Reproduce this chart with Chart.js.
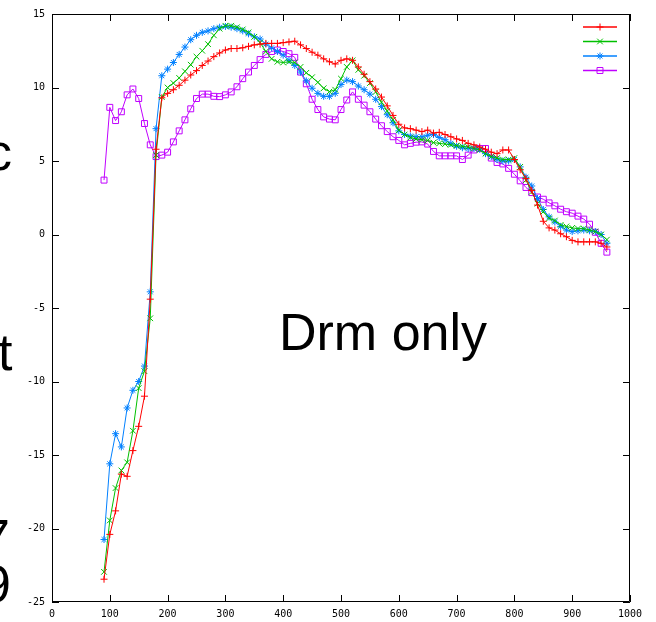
<!DOCTYPE html>
<html>
<head>
<meta charset="utf-8">
<script src="https://cdn.jsdelivr.net/npm/chart.js@4.4.1/dist/chart.umd.min.js"></script>
<style>
  html, body { margin: 0; padding: 0; background: #fff; }
  #wrap { position: relative; width: 656px; height: 622px; overflow: hidden; }
  canvas { display: block; }
  .big {
    position: absolute;
    font-family: "Liberation Sans", Arial, sans-serif;
    font-size: 52px;
    line-height: 1;
    color: #000;
    white-space: nowrap;
  }
</style>
</head>
<body>
<div id="wrap">
  <canvas id="chart" width="656" height="622"></canvas>
  <div class="big" style="left:-14px; top:126px;">c</div>
  <div class="big" style="left:-2px; top:326px;">t</div>
  <div class="big" style="left:-19px; top:512px;">7</div>
  <div class="big" style="left:-18px; top:558px;">9</div>
  <div class="big" style="left:279px; top:306px;">Drm only</div>
</div>
<script>
// x positions shared by all four curves
const xValues = [
  90, 100, 110, 120, 130, 140, 150, 160, 170, 180,
  190, 200, 210, 220, 230, 240, 250, 260, 270, 280,
  290, 300, 310, 320, 330, 340, 350, 360, 370, 380,
  390, 400, 410, 420, 430, 440, 450, 460, 470, 480,
  490, 500, 510, 520, 530, 540, 550, 560, 570, 580,
  590, 600, 610, 620, 630, 640, 650, 660, 670, 680,
  690, 700, 710, 720, 730, 740, 750, 760, 770, 780,
  790, 800, 810, 820, 830, 840, 850, 860, 870, 880,
  890, 900, 910, 920, 930, 940, 950, 960
];

const redValues = [
  -23.45, -20.4, -18.8, -16.3, -16.45, -14.7, -13.05, -11.0, -4.4, 5.8,
  9.3, 9.6, 9.85, 10.15, 10.5, 10.85, 11.15, 11.5, 11.8, 12.1,
  12.35, 12.55, 12.65, 12.65, 12.7, 12.8, 12.9, 12.95, 13.0, 13.0,
  13.0, 13.05, 13.1, 13.15, 12.9, 12.65, 12.4, 12.2, 11.95, 11.75,
  11.6, 11.85, 11.95, 11.85, 11.4, 10.9, 10.4, 9.9, 9.35, 8.75,
  8.1, 7.5, 7.25, 7.2, 7.1, 7.0, 7.1, 6.9, 6.95, 6.8,
  6.65, 6.5, 6.4, 6.2, 6.1, 5.95, 5.8, 5.6, 5.5, 5.75,
  5.75, 5.1, 4.4, 3.8, 3.0, 2.0, 0.9, 0.45, 0.3, 0.05,
  -0.15, -0.4, -0.5, -0.5, -0.5, -0.5, -0.6, -0.85
];

const greenValues = [
  -22.95, -19.45, -17.25, -16.05, -15.5, -13.35, -10.45, -9.3, -5.7, 5.4,
  9.35, 10.0, 10.3, 10.65, 11.1, 11.55, 12.1, 12.5, 12.95, 13.55,
  14.0, 14.2, 14.2, 14.1, 13.95, 13.75, 13.45, 13.05, 12.45, 11.95,
  11.75, 11.7, 11.75, 11.7, 11.4, 11.0, 10.7, 10.35, 9.95, 9.72,
  9.85, 10.6, 11.4, 11.85, 11.2, 10.8, 10.3, 9.7, 9.0, 8.4,
  7.8, 7.1, 6.8, 6.6, 6.5, 6.45, 6.4, 6.25, 6.2, 6.15,
  6.1, 6.05, 6.0, 5.95, 5.85, 5.75, 5.5, 5.3, 5.2, 5.1,
  5.1, 5.2, 4.6, 3.7, 2.9, 2.1, 1.55, 1.1, 0.95, 0.65,
  0.55, 0.45, 0.4, 0.4, 0.3, 0.2, 0.0, -0.35
];

const blueValues = [
  -20.75, -15.6, -13.55, -14.45, -11.8, -10.6, -10.0, -8.95, -3.9, 7.2,
  10.8, 11.25, 11.7, 12.25, 12.75, 13.25, 13.55, 13.75, 13.85, 14.0,
  14.1, 14.15, 14.1, 14.0, 13.85, 13.65, 13.45, 13.3, 12.95, 12.7,
  12.45, 12.2, 11.85, 11.5, 11.05, 10.45, 9.95, 9.6, 9.4, 9.4,
  9.6, 10.2, 10.5, 10.4, 10.1, 9.85, 9.55, 9.2, 8.7, 8.15,
  7.6, 7.05, 6.8, 6.7, 6.65, 6.65, 6.75, 6.8, 6.6, 6.45,
  6.2, 6.0, 5.9, 5.85, 5.85, 5.8, 5.5, 5.3, 5.1, 5.0,
  5.0, 5.1, 4.6, 3.9, 3.3, 2.45, 1.7, 1.2, 0.85, 0.55,
  0.3, 0.2, 0.25, 0.3, 0.25, 0.2, 0.0, -0.6
];

const purpleValues = [
  3.7, 8.65, 7.75, 8.35, 9.5, 9.9, 9.25, 7.55, 6.1, 5.3,
  5.4, 5.6, 6.3, 7.05, 7.8, 8.55, 9.25, 9.55, 9.55, 9.4,
  9.38, 9.5, 9.7, 10.05, 10.6, 11.05, 11.5, 11.9, 12.25, 12.45,
  12.55, 12.45, 12.3, 12.05, 11.05, 10.25, 9.2, 8.5, 8.0, 7.85,
  7.8, 8.5, 9.15, 9.7, 9.2, 8.8, 8.35, 7.85, 7.4, 7.0,
  6.65, 6.4, 6.1, 6.2, 6.28, 6.3, 6.15, 5.65, 5.35, 5.35,
  5.35, 5.35, 5.1, 5.4, 5.75, 5.85, 5.85, 5.2, 4.9, 4.8,
  4.5, 4.1, 3.65, 3.2, 2.85, 2.55, 2.4, 2.15, 1.95, 1.72,
  1.55, 1.45, 1.25, 1.05, 0.7, 0.15, -0.6, -1.2
];

const xTicks = [0, 100, 200, 300, 400, 500, 600, 700, 800, 900, 1000];
const yTicks = [-25, -20, -15, -10, -5, 0, 5, 10, 15];

// gnuplot default colours and point types
const seriesList = [
  { values: redValues, color: "#ff0000", style: "cross", radius: 3.5 },
  { values: greenValues, color: "#00c000", style: "crossRot", radius: 4 },
  { values: blueValues, color: "#0080ff", style: "star", radius: 3.5 },
  { values: purpleValues, color: "#c000ff", style: "rect", radius: 4.2 }
];

const tickFont = { family: "'DejaVu Sans Mono', monospace", size: 10 };

// border + inward tick marks, gnuplot style
const framePlugin = {
  id: "frame",
  beforeDatasetsDraw(chart) {
    const { ctx, chartArea: a, scales } = chart;
    const len = 7;
    ctx.save();
    ctx.strokeStyle = "#000";
    ctx.lineWidth = 1;
    ctx.beginPath();
    ctx.rect(Math.round(a.left) + 0.5, Math.round(a.top) + 0.5,
      Math.round(a.right - a.left) - 1, Math.round(a.bottom - a.top) - 1);
    xTicks.forEach(v => {
      const px = Math.round(scales.x.getPixelForValue(v)) + 0.5;
      ctx.moveTo(px, a.bottom);
      ctx.lineTo(px, a.bottom - len);
      ctx.moveTo(px, a.top);
      ctx.lineTo(px, a.top + len);
    });
    yTicks.forEach(v => {
      const py = Math.round(scales.y.getPixelForValue(v)) + 0.5;
      ctx.moveTo(a.left, py);
      ctx.lineTo(a.left + len, py);
      ctx.moveTo(a.right, py);
      ctx.lineTo(a.right - len, py);
    });
    ctx.stroke();
    ctx.restore();
  },
  // key without titles in the top right corner
  afterDatasetsDraw(chart) {
    const { ctx } = chart;
    ctx.save();
    seriesList.forEach((s, i) => {
      const y = 27 + i * 14.5;
      ctx.globalAlpha = 1;
      ctx.strokeStyle = s.color;
      ctx.fillStyle = "rgba(0,0,0,0)";
      ctx.lineWidth = 1.5;
      ctx.beginPath();
      ctx.moveTo(583, y);
      ctx.lineTo(617, y);
      ctx.stroke();
      ctx.lineWidth = 1;
      Chart.helpers.drawPoint(ctx, {
        pointStyle: s.style,
        radius: s.radius,
        borderWidth: 1
      }, 600, y);
    });
    ctx.restore();
  }
};

new Chart(document.getElementById("chart"), {
  type: "line",
  data: {
    datasets: seriesList.map(s => ({
      data: xValues.map((x, i) => ({ x: x, y: s.values[i] })),
      borderColor: s.color,
      backgroundColor: "transparent",
      borderWidth: 1,
      pointStyle: s.style,
      pointRadius: s.radius,
      pointBorderWidth: 1,
      pointBorderColor: s.color,
      pointBackgroundColor: "transparent",
      fill: false,
      tension: 0
    }))
  },
  options: {
    responsive: false,
    animation: false,
    layout: { padding: { left: 0, top: 14, right: 26, bottom: 0 } },
    plugins: {
      legend: { display: false },
      tooltip: { enabled: false }
    },
    scales: {
      x: {
        type: "linear",
        min: 0,
        max: 1000,
        afterFit: scale => { scale.height = 20; },
        afterBuildTicks: scale => { scale.ticks = xTicks.map(v => ({ value: v })); },
        grid: { display: false, drawTicks: false },
        border: { display: false },
        ticks: {
          color: "#000", font: tickFont, padding: 6, maxRotation: 0, autoSkip: false,
          callback: value => String(value)
        }
      },
      y: {
        type: "linear",
        min: -25,
        max: 15,
        afterFit: scale => { scale.width = 52; },
        afterBuildTicks: scale => { scale.ticks = yTicks.map(v => ({ value: v })); },
        grid: { display: false, drawTicks: false },
        border: { display: false },
        ticks: {
          color: "#000", font: tickFont, padding: 7, autoSkip: false,
          callback: value => String(value)
        }
      }
    }
  },
  plugins: [framePlugin]
});
</script>
</body>
</html>
